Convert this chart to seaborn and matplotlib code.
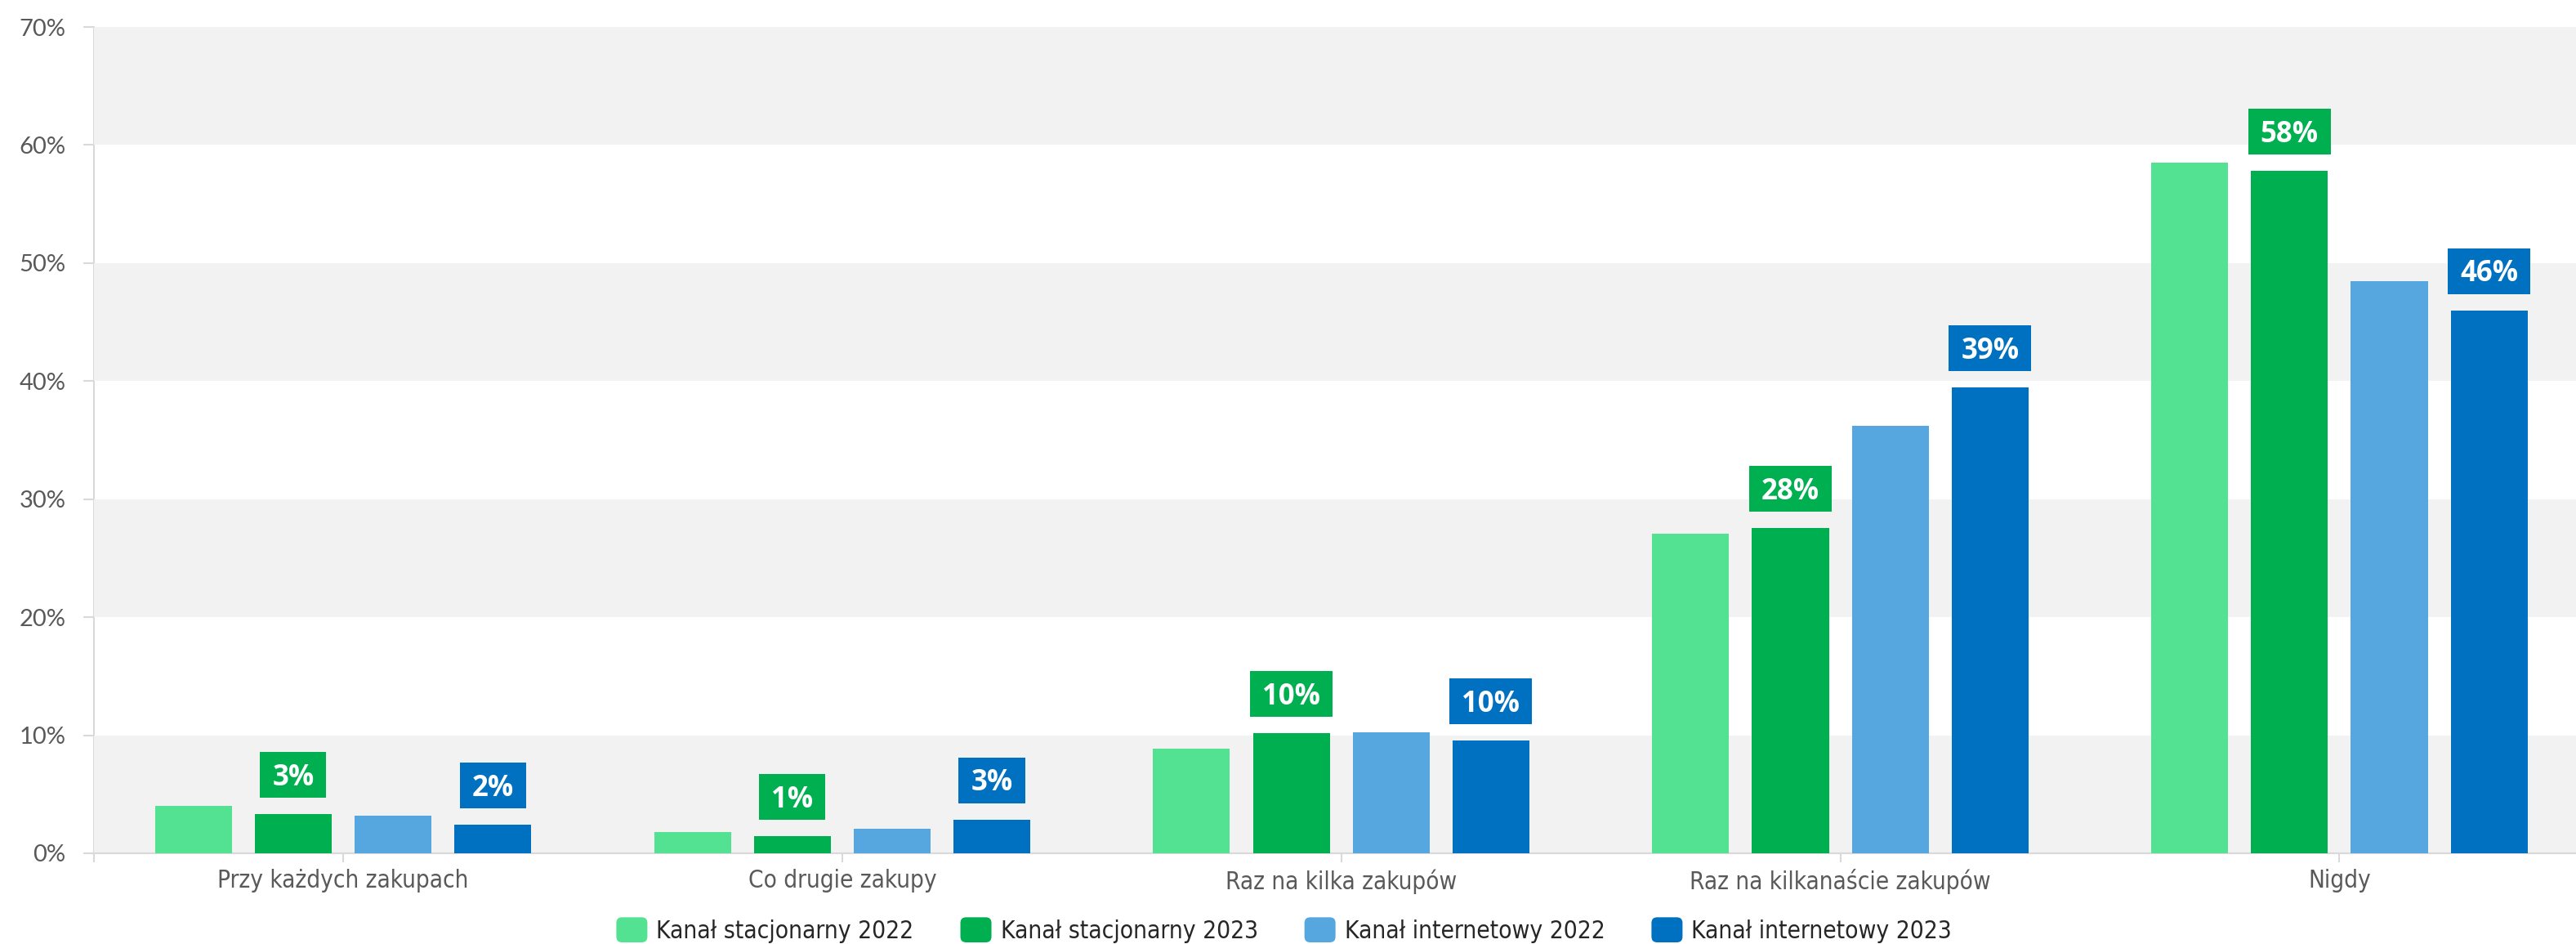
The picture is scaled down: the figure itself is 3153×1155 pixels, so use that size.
import matplotlib
matplotlib.use("Agg")
import numpy as np
import pandas as pd
import matplotlib.pyplot as plt
import matplotlib.font_manager as fm
import seaborn as sns
from matplotlib.patches import Rectangle, FancyBboxPatch, Patch
from matplotlib.legend_handler import HandlerPatch
from matplotlib.transforms import IdentityTransform

# --- data -------------------------------------------------------------
categories = [
    "Przy każdych zakupach",
    "Co drugie zakupy",
    "Raz na kilka zakupów",
    "Raz na kilkanaście zakupów",
    "Nigdy",
]
series = [
    "Kanał stacjonarny 2022",
    "Kanał stacjonarny 2023",
    "Kanał internetowy 2022",
    "Kanał internetowy 2023",
]
stacjonarny_2022 = [4.0, 1.8, 8.85, 27.1, 58.5]
stacjonarny_2023 = [3.3, 1.45, 10.15, 27.55, 57.8]
internetowy_2022 = [3.2, 2.1, 10.25, 36.2, 48.5]
internetowy_2023 = [2.4, 2.85, 9.55, 39.45, 46.0]
y_ticks = [0, 10, 20, 30, 40, 50, 60, 70]

colors = ["#52E291", "#00B050", "#56A7E0", "#0070C0"]
labelled_series = [1, 3]  # value boxes are shown for the 2023 series

df = pd.DataFrame({
    "kategoria": categories * 4,
    "seria": np.repeat(series, len(categories)),
    "udzial": stacjonarny_2022 + stacjonarny_2023 + internetowy_2022 + internetowy_2023,
})


# --- fonts ------------------------------------------------------------
def narrow_font():
    """Return a FontProperties for a narrow sans face, if one is installed."""
    def is_narrow(f):
        st = f.stretch
        if isinstance(st, str):
            cond = st in ("condensed", "semi-condensed", "extra-condensed")
        else:
            cond = st < 500
        return ("Narrow" in f.name or cond) and f.style == "normal" and f.weight in (400, "normal", "regular")
    cands = [f for f in fm.fontManager.ttflist if is_narrow(f)]
    cands.sort(key=lambda f: (0 if "Liberation" in f.name else 1 if "DejaVu" in f.name else 2))
    if cands:
        return fm.FontProperties(fname=cands[0].fname)
    return fm.FontProperties(family="Roboto")


label_font = narrow_font()

# --- figure -----------------------------------------------------------
W, H = 3153, 1155
fig = plt.figure(figsize=(W / 100, H / 100), dpi=100)
renderer = fig.canvas.get_renderer()


def fitted_size(text, fprops, target_px, base=26):
    probe = fig.text(0, 0, text, fontproperties=fprops, fontsize=base)
    w = probe.get_window_extent(renderer).width
    probe.remove()
    return base * target_px / w


cat_size = min(26, fitted_size(categories[0], label_font, 309))
leg_size = min(26.5, fitted_size(series[0], label_font, 316))

ax_left, ax_bottom, ax_top = 114.5, 1044, 33
ax = fig.add_axes([ax_left / W, (H - ax_bottom) / H, (W - ax_left) / W, (ax_bottom - ax_top) / H])

sns.barplot(
    data=df, x="kategoria", y="udzial", hue="seria",
    order=categories, hue_order=series, palette=colors, saturation=1,
    width=0.8, gap=0.23, linewidth=0, errorbar=None, legend=False, ax=ax,
)

ax.set_xlim(-0.5, 4.474)
ax.set_ylim(0, 70)

# alternating horizontal bands
for lo in range(0, 70, 20):
    ax.axhspan(lo, lo + 10, color="#F2F2F2", lw=0, zorder=1)
for cont in ax.containers:
    for bar in cont:
        bar.set_zorder(3)

# axes styling
grey_line = "#D9D9D9"
for side in ("top", "right"):
    ax.spines[side].set_visible(False)
ax.spines["left"].set_color(grey_line)
ax.spines["left"].set_linewidth(1.5)
ax.spines["left"].set_zorder(0.5)
ax.spines["bottom"].set_color(grey_line)
ax.spines["bottom"].set_linewidth(1.5)
ax.spines["bottom"].set_zorder(2)

ax.set_yticks(y_ticks)
ax.set_yticklabels([f"{v}%" for v in y_ticks])
ax.tick_params(axis="y", length=9.4, width=1.5, color=grey_line, pad=15,
               labelsize=21, labelcolor="#595959")
for lbl in ax.get_yticklabels():
    lbl.set_fontfamily(["Lato", "DejaVu Sans"])

ax.set_xticks([-0.5], minor=True)
ax.tick_params(axis="x", which="both", length=8, width=1.5, color=grey_line)
ax.tick_params(axis="x", which="major", pad=6, labelcolor="#595959")
for lbl in ax.get_xticklabels():
    lbl.set_fontproperties(label_font)
    lbl.set_fontsize(cat_size)
ax.set_xlabel("")
ax.set_ylabel("")

# --- value boxes above the 2023 bars ----------------------------------
fig.canvas.draw()
gap_px, box_h, box_pad = 20, 56, 15
for idx in labelled_series:
    cont = ax.containers[idx]
    for bar, val in zip(cont, cont.datavalues):
        cx = bar.get_x() + bar.get_width() / 2
        px, py = ax.transData.transform((cx, val))
        txt = ax.text(px, py + gap_px + box_h / 2 - 12.5, f"{val:.0f}%",
                      transform=IdentityTransform(), ha="center", va="baseline",
                      color="white", fontsize=25, fontweight="bold",
                      family=["Open Sans", "DejaVu Sans"], zorder=6, clip_on=False)
        tw = txt.get_window_extent(renderer).width + 2 * box_pad
        ax.add_patch(Rectangle((px - tw / 2, py + gap_px), tw, box_h,
                               transform=IdentityTransform(), facecolor=colors[idx],
                               lw=0, zorder=5, clip_on=False))


# --- legend with rounded swatches ---------------------------------------
class RoundedSwatch(HandlerPatch):
    def create_artists(self, legend, orig_handle, xdescent, ydescent,
                       width, height, fontsize, trans):
        r = 5
        p = FancyBboxPatch((-xdescent + r, -ydescent + r), width - 2 * r, height - 2 * r,
                           boxstyle=f"round,pad={r}", facecolor=orig_handle.get_facecolor(),
                           lw=0, transform=trans)
        return [p]


leg_px = leg_size / 0.72
leg_props = label_font.copy()
leg_props.set_size(leg_size)
handles = [Patch(facecolor=c) for c in colors]
fig.legend(handles=handles, labels=series, loc="center",
           bbox_to_anchor=(0.4985, 17 / H), ncol=4, frameon=False,
           prop=leg_props, labelcolor="#262626",
           handlelength=38 / leg_px, handleheight=36 / leg_px,
           handletextpad=11 / leg_px, columnspacing=57 / leg_px,
           handler_map={Patch: RoundedSwatch()})

fig.savefig("out.png", dpi=100)
